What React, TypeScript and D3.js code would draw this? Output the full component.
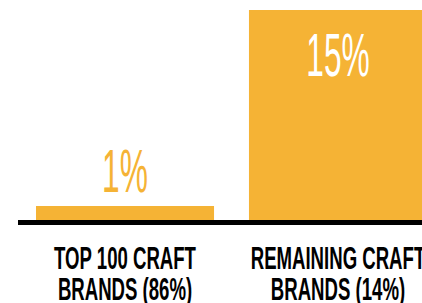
import React from "react";
import * as d3 from "d3";

const categories = ["TOP 100 CRAFT|BRANDS (86%)", "REMAINING CRAFT|BRANDS (14%)"];
const values = [1, 15];
const valueLabels = ["1%", "15%"];

const ORANGE = "#F5B335";
const W = 422;
const H = 303;

const App = () => {
  const baseY = 220;

  const x = d3.scaleBand<string>()
    .domain(categories)
    .range([36, 427])
    .paddingInner(0.164)
    .paddingOuter(0);

  const y = d3.scaleLinear().domain([0, 15]).range([baseY, 10]);

  return (
    <svg
      width={W}
      height={H}
      style={{ position: "absolute", left: 0, top: 0, background: "#fff" }}
    >
      {categories.map((c, i) => {
        const cx = x(c)! + x.bandwidth() / 2;
        const top = y(values[i]);
        // small bars get the label above, tall bars get it inside in white
        const inside = baseY - top > 80;
        const ly = inside ? top + 66 : top - 14;
        const [l1, l2] = c.split("|");
        return (
          <g key={c}>
            <rect
              x={x(c)}
              y={top}
              width={x.bandwidth()}
              height={baseY - top}
              fill={ORANGE}
            />
            <text
              transform={`translate(${cx},${ly}) scale(0.52,1)`}
              textAnchor="middle"
              fontFamily="Liberation Sans, Arial, sans-serif"
              fontSize={61}
              fill={inside ? "#fff" : ORANGE}
            >
              {valueLabels[i]}
            </text>
            <text
              transform={`translate(${cx},269) scale(0.6,1)`}
              textAnchor="middle"
              fontFamily="Liberation Sans, Arial, sans-serif"
              fontWeight={700}
              fontSize={31}
              fill="#000"
            >
              {l1}
            </text>
            <text
              transform={`translate(${cx},300) scale(0.6,1)`}
              textAnchor="middle"
              fontFamily="Liberation Sans, Arial, sans-serif"
              fontWeight={700}
              fontSize={31}
              fill="#000"
            >
              {l2}
            </text>
          </g>
        );
      })}
      {/* baseline */}
      <rect x={x.range()[0] - 18} y={baseY} width={W} height={5} fill="#000" />
    </svg>
  );
};

export default App;
